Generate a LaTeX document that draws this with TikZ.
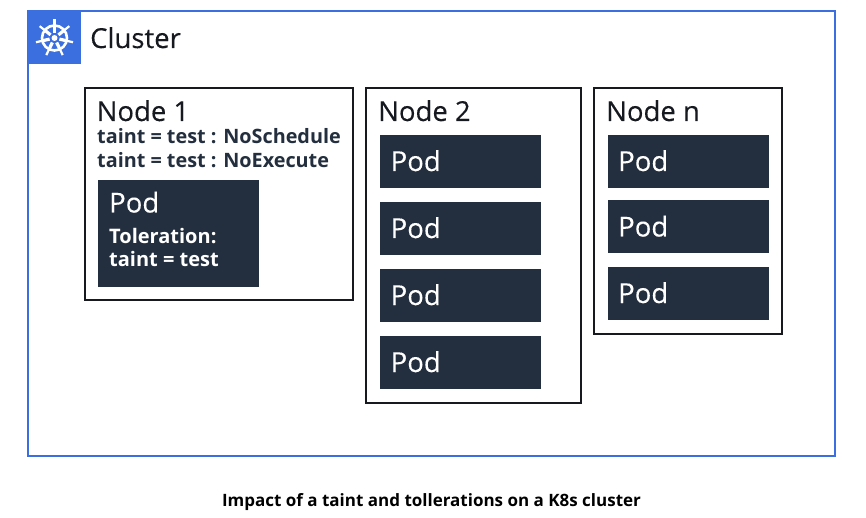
\documentclass[tikz,border=0pt]{standalone}
\usepackage{fontspec}
\setmainfont{Open Sans}
\newfontfamily\heavier[FakeBold=0.15]{Open Sans}
\definecolor{podc}{HTML}{232F3E}
\definecolor{blu}{HTML}{3B6FE0}
\definecolor{inkc}{HTML}{16191F}
\tikzset{
 x=1pt,y=-1pt,
 box/.style={draw=inkc,line width=1.3pt,fill=white},
 big/.style={font=\heavier\fontsize{27.5}{30}\selectfont,anchor=base west,inner sep=0,text=inkc},
 podt/.style={font=\heavier\fontsize{27.5}{30}\selectfont,anchor=base west,inner sep=0,text=white},
 bold/.style={font=\fontsize{19.8}{24}\selectfont\bfseries,anchor=base west,inner sep=0},
}
\newcommand{\podat}[3]{\fill[podc] (#1,#2) rectangle ++(161,53); \node[podt] (#3) at (#1+10.5,#2+36) {Pod};}
\begin{document}
\begin{tikzpicture}
\useasboundingbox (0,0) rectangle (866,518);
\fill[white] (0,0) rectangle (866,518);
\draw[draw=blu,line width=1.3pt] (28,11) rectangle (835,456);
\fill[blu] (27.5,10.5) rectangle (81,64);
% wheel icon
\begin{scope}[white,shift={(54.5,38)}]
 \draw[line width=2.6pt] (0,0) circle (12.5);
 \fill (0,0) circle (3);
 \foreach \a in {-90,-38.6,12.9,64.3,115.7,167.1,218.6}{
  \draw[line width=2.2pt] (\a:12) -- (\a:19);
  \draw[line width=3.2pt] (\a:5) -- (\a:12);
 }
\end{scope}
\node[big] (cluster) at (90,48) {Cluster};
\draw[box] (85,88) rectangle (353,300);
\draw[box] (366,88) rectangle (581,403);
\draw[box] (594,88) rectangle (782,334);
\node[big] (n1) at (96.5,121) {Node 1};
\node[big] (n2) at (378,121) {Node 2};
\node[big] (nn) at (606,121) {Node n};
\node[bold,text=podc] (t1) at (97,144) {taint = test : NoSchedule};
\node[bold,text=podc] (t2) at (97,168) {taint = test : NoExecute};
\fill[podc] (98,180) rectangle (259,287);
\node[podt] (p1) at (109,212.5) {Pod};
\node[bold,text=white,font=\fontsize{20}{24}\selectfont\bfseries] (t3) at (109,243.5) {Toleration:};
\node[bold,text=white,font=\fontsize{20}{24}\selectfont\bfseries] (t4) at (109,266) {taint = test};
\podat{380}{135}{a1}\podat{380}{202}{a2}\podat{380}{269}{a3}\podat{380}{336}{a4}
\podat{607.5}{135}{b1}\podat{607.5}{200.5}{b2}\podat{607.5}{267}{b3}
\node[font=\fontsize{17}{20}\selectfont\bfseries,inner sep=0,anchor=base,text=black] (cap) at (431.5,506) {Impact of a taint and tollerations on a K8s cluster};
\end{tikzpicture}
\end{document}
